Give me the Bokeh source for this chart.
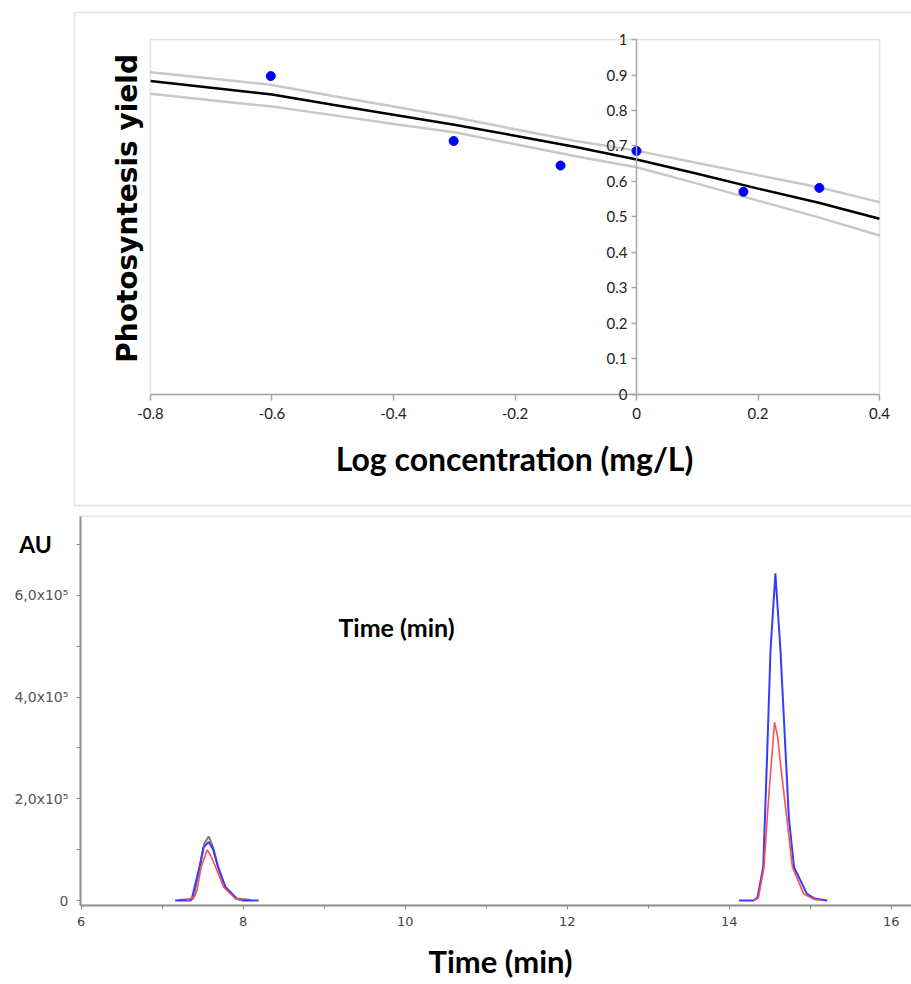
import numpy as np
from bokeh.plotting import figure
from bokeh.models import (Range1d, LinearAxis, FixedTicker, NumeralTickFormatter,
                          Label, BoxAnnotation)
from bokeh.layouts import column
from bokeh.embed import file_html
from bokeh.resources import INLINE

# ---------------- data: dose-response (top) ----------------
log_conc = [-0.602, -0.301, -0.125, 0.0, 0.176, 0.301]
photo_yield = [0.897, 0.714, 0.645, 0.686, 0.571, 0.582]

fit_x = [-0.8, -0.7, -0.6, -0.5, -0.4, -0.3, -0.2, -0.1, 0.0, 0.1, 0.2, 0.3, 0.4]
fit_y = [0.883, 0.864, 0.845, 0.816, 0.788, 0.760, 0.729, 0.697, 0.662, 0.622, 0.580, 0.540, 0.495]
ci_upper = [0.908, 0.890, 0.872, 0.841, 0.811, 0.781, 0.747, 0.714, 0.687, 0.652, 0.618, 0.584, 0.542]
ci_lower = [0.847, 0.829, 0.811, 0.787, 0.762, 0.739, 0.705, 0.671, 0.640, 0.594, 0.546, 0.499, 0.448]

top_x_ticks = [-0.8, -0.6, -0.4, -0.2, 0.0, 0.2, 0.4]
top_y_ticks = [0.0, 0.1, 0.2, 0.3, 0.4, 0.5, 0.6, 0.7, 0.8, 0.9, 1.0]

# ---------------- data: chromatogram (bottom) ----------------
blue1_t = [7.16, 7.35, 7.37, 7.46, 7.51, 7.575, 7.63, 7.69, 7.78, 7.92, 7.99, 8.19]
blue1_au = [0, 0, 6500, 65500, 105000, 115000, 100000, 65500, 26000, 3300, 0, 0]
blue2_t = [14.12, 14.30, 14.35, 14.42, 14.47, 14.51, 14.57, 14.633, 14.695, 14.736, 14.80, 14.96, 15.05, 15.21]
blue2_au = [0, 0, 6500, 65500, 295000, 491600, 643600, 491600, 295000, 163900, 65500, 13100, 4000, 0]

red1_t = [7.30, 7.40, 7.43, 7.48, 7.556, 7.60, 7.66, 7.76, 7.90, 7.99]
red1_au = [0, 8000, 20000, 65500, 99700, 88000, 65500, 26000, 4000, 0]
red2_t = [14.30, 14.36, 14.43, 14.47, 14.50, 14.56, 14.60, 14.633, 14.71, 14.78, 14.92, 15.05, 15.15]
red2_au = [0, 5000, 65500, 163900, 229400, 350700, 320000, 268800, 163900, 65500, 13100, 2000, 0]

gray1_t = [7.20, 7.38, 7.46, 7.52, 7.575, 7.63, 7.69, 7.78, 7.92, 8.10]
gray1_au = [1000, 3000, 60000, 112000, 126000, 104000, 66000, 27000, 4000, 1000]

bot_x_ticks = [6, 8, 10, 12, 14, 16]
bot_x_minor = [7, 9, 11, 13, 15]
bot_y_ticks = [0, 200000, 400000, 600000]
bot_y_minor = [100000, 300000, 500000, 700000]
bot_y_labels = {0: "0", 200000: "2,0x10\u2075", 400000: "4,0x10\u2075", 600000: "6,0x10\u2075"}

GRAY = "#a6a6a6"
AXGRAY = "#8a8a8a"

# ================= top figure =================
p1 = figure(width=911, height=508,
            x_range=Range1d(-1.04691, 0.45267), y_range=Range1d(-0.32113, 1.10986),
            output_backend="svg", toolbar_location=None,
            x_axis_location=None, y_axis_location=None, min_border=0)
p1.grid.visible = False
p1.outline_line_color = None
p1.background_fill_color = "white"
p1.border_fill_color = "white"

p1.add_layout(BoxAnnotation(left=-0.92510, right=0.6, bottom=-0.31268, top=1.07606,
                            fill_alpha=0, line_color=GRAY, line_width=1.5))
p1.add_layout(BoxAnnotation(left=-0.8, right=0.4, bottom=0, top=1,
                            fill_alpha=0, line_color=GRAY, line_width=1.5))

xa = LinearAxis(fixed_location=0, bounds=(-0.8, 0.4),
                ticker=FixedTicker(ticks=top_x_ticks, minor_ticks=[]),
                formatter=NumeralTickFormatter(format="0.[0]"))
xa.axis_line_color = GRAY
xa.axis_line_width = 1.5
xa.major_tick_line_color = GRAY
xa.major_tick_line_width = 1.5
xa.major_tick_out = 6
xa.major_tick_in = 0
xa.minor_tick_line_color = None
xa.major_label_text_font = "Lato"
xa.major_label_text_font_size = "15px"
xa.major_label_text_color = "#222222"
xa.major_label_standoff = 8
p1.add_layout(xa, "below")

ya = LinearAxis(fixed_location=0, bounds=(0, 1),
                ticker=FixedTicker(ticks=top_y_ticks, minor_ticks=[]),
                formatter=NumeralTickFormatter(format="0.[0]"))
ya.axis_line_color = GRAY
ya.axis_line_width = 1.5
ya.major_tick_line_color = GRAY
ya.major_tick_line_width = 1.5
ya.major_tick_out = 5
ya.major_tick_in = 0
ya.minor_tick_line_color = None
ya.major_label_text_font = "Lato"
ya.major_label_text_font_size = "15px"
ya.major_label_text_color = "#222222"
ya.major_label_standoff = 4
p1.add_layout(ya, "left")

p1.line(fit_x, ci_upper, line_color="#c8c8c8", line_width=2.5)
p1.line(fit_x, ci_lower, line_color="#c8c8c8", line_width=2.5)
p1.line(fit_x, fit_y, line_color="black", line_width=2.5)
p1.scatter(log_conc, photo_yield, size=9, fill_color="#0000ff", line_color="#0000ff")

p1.add_layout(Label(x=-0.83786, y=0.53803, text="Photosyntesis  yield", angle=np.pi / 2,
                    text_align="center", text_baseline="middle",
                    text_font="DejaVu Sans", text_font_style="bold", text_font_size="28px",
                    text_color="black"))
p1.add_layout(Label(x=-0.20082, y=-0.18028, text="Log concentration (mg/L)",
                    text_align="center", text_baseline="middle",
                    text_font="Lato", text_font_style="bold", text_font_size="32px",
                    text_color="black"))

# ================= bottom figure =================
p2 = figure(width=911, height=476,
            x_range=Range1d(5.0037, 16.2506), y_range=Range1d(-165186, 770868),
            output_backend="svg", toolbar_location=None,
            x_axis_location=None, y_axis_location=None, min_border=0)
p2.grid.visible = False
p2.outline_line_color = None
p2.background_fill_color = "white"
p2.border_fill_color = "white"

p2.add_layout(BoxAnnotation(left=5.99, right=17.0, bottom=-9833, top=755730,
                            fill_alpha=0, line_color=GRAY, line_width=1.5))

bx = LinearAxis(fixed_location=-9833, bounds=(5.99, 16.3),
                ticker=FixedTicker(ticks=bot_x_ticks, minor_ticks=bot_x_minor))
bx.axis_line_color = AXGRAY
bx.axis_line_width = 2
bx.major_tick_line_color = AXGRAY
bx.major_tick_out = 4
bx.major_tick_in = 0
bx.minor_tick_line_color = AXGRAY
bx.minor_tick_out = 3
bx.minor_tick_in = 0
bx.major_label_text_font = "DejaVu Sans"
bx.major_label_text_font_size = "13px"
bx.major_label_text_color = "#444444"
bx.major_label_standoff = 7
p2.add_layout(bx, "below")

by = LinearAxis(fixed_location=5.99, bounds=(-9833, 755730),
                ticker=FixedTicker(ticks=bot_y_ticks, minor_ticks=bot_y_minor))
by.major_label_overrides = bot_y_labels
by.axis_line_color = AXGRAY
by.axis_line_width = 2
by.major_tick_line_color = AXGRAY
by.major_tick_out = 4
by.major_tick_in = 0
by.minor_tick_line_color = AXGRAY
by.minor_tick_out = 4
by.minor_tick_in = 0
by.major_label_text_font = "DejaVu Sans"
by.major_label_text_font_size = "14px"
by.major_label_text_color = "#555555"
by.major_label_standoff = 8
p2.add_layout(by, "left")

p2.multi_line(xs=[gray1_t], ys=[gray1_au], line_color="#808080", line_width=2)
p2.multi_line(xs=[blue1_t, blue2_t], ys=[blue1_au, blue2_au], line_color="#3a3aff", line_width=2)
p2.multi_line(xs=[red1_t, red2_t], ys=[red1_au, red2_au], line_color="#ff5050", line_width=1.6)

p2.add_layout(Label(x=5.4358, y=702040, text="AU", text_align="center", text_baseline="middle",
                    text_font="Lato", text_font_style="bold", text_font_size="23px", text_color="black"))
p2.add_layout(Label(x=9.8926, y=536855, text="Time (min)", text_align="center", text_baseline="middle",
                    text_font="Lato", text_font_style="bold", text_font_size="25px", text_color="black"))
p2.add_layout(Label(x=11.1765, y=-119000, text="Time (min)", text_align="center", text_baseline="middle",
                    text_font="Lato", text_font_style="bold", text_font_size="31px", text_color="black"))

layout = column(p1, p2, spacing=0)
open("out.html", "w").write(file_html(layout, INLINE))
